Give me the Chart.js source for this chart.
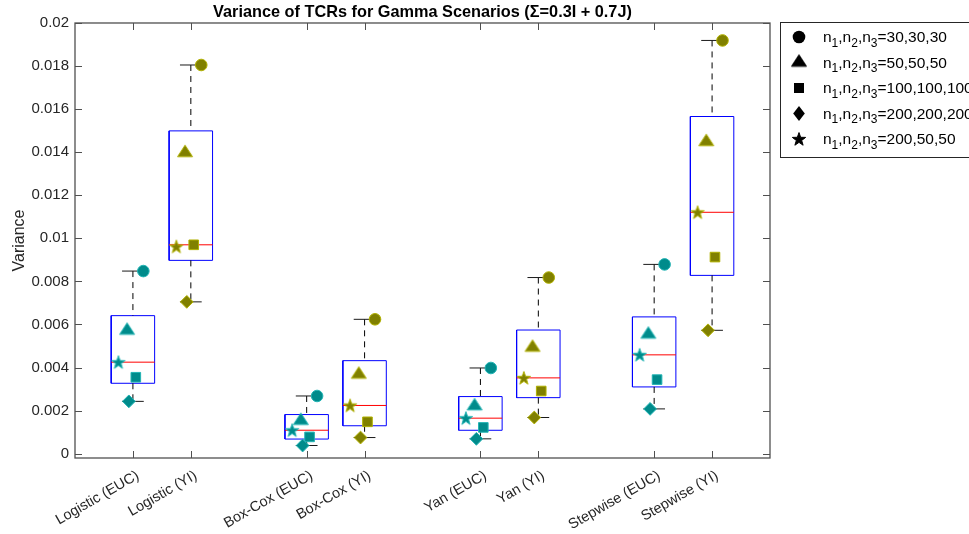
<!DOCTYPE html>
<html>
<head>
<meta charset="utf-8">
<script src="https://cdn.jsdelivr.net/npm/chart.js@4/dist/chart.umd.min.js"></script>
<style>
  html, body { margin: 0; padding: 0; background: #ffffff; }
  #wrap { position: relative; width: 969px; height: 534px; }
</style>
</head>
<body>
<div id="wrap"><canvas id="c" width="969" height="534"></canvas></div>
<script>
// Methods compared (EUC / YI variant of each)
const categories = [
  'Logistic (EUC)', 'Logistic (YI)',
  'Box-Cox (EUC)', 'Box-Cox (YI)',
  'Yan (EUC)', 'Yan (YI)',
  'Stepwise (EUC)', 'Stepwise (YI)'
];

// Variance of the TCR estimates, one array per sample-size scenario
const n30_30_30    = [0.00848, 0.01805, 0.00268, 0.00624, 0.00398, 0.00818, 0.00879, 0.01919];
const n50_50_50    = [0.00572, 0.01397, 0.00153, 0.00368, 0.00221, 0.00493, 0.00554, 0.01448];
const n100_100_100 = [0.00355, 0.00970, 0.00078, 0.00148, 0.00122, 0.00291, 0.00344, 0.00913];
const n200_200_200 = [0.00243, 0.00705, 0.00038, 0.00075, 0.00069, 0.00168, 0.00208, 0.00573];
const n200_50_50   = [0.00425, 0.00962, 0.00109, 0.00224, 0.00165, 0.00352, 0.00459, 0.01121];

// Scenario labels: subscripted n's are added when the legend is drawn
const scenarioLabels = ['30,30,30', '50,50,50', '100,100,100', '200,200,200', '200,50,50'];

const yTickValues = [0, 0.002, 0.004, 0.006, 0.008, 0.01, 0.012, 0.014, 0.016, 0.018, 0.02];

// ---------------------------------------------------------------------------
const seriesValues = [n30_30_30, n50_50_50, n100_100_100, n200_200_200, n200_50_50];

// Category slots: pairs of boxes with an empty slot between methods
const slotOf = (i) => i + Math.floor(i / 2) + 1;
const slots = categories.map((_, i) => slotOf(i));

const TEAL = '#008b8b', TEAL_EDGE = '#22b4b4';
const OLIVE = '#808000', OLIVE_EDGE = '#b0b000';
const fillFor = (i) => (i % 2 === 0 ? TEAL : OLIVE);
const edgeFor = (i) => (i % 2 === 0 ? TEAL_EDGE : OLIVE_EDGE);

const FONT = '"Liberation Sans", Arial, Helvetica, sans-serif';
const AXIS_COLOR = '#262626';

// Quantiles as computed by MATLAB's prctile (midpoint plotting positions)
function quantile(sorted, p) {
  const n = sorted.length;
  const pos = p * n + 0.5;
  if (pos <= 1) return sorted[0];
  if (pos >= n) return sorted[n - 1];
  const lo = Math.floor(pos);
  const f = pos - lo;
  return sorted[lo - 1] + f * (sorted[lo] - sorted[lo - 1]);
}

const boxStats = categories.map((_, i) => {
  const vals = seriesValues.map(s => s[i]).sort((a, b) => a - b);
  const q1 = quantile(vals, 0.25), med = quantile(vals, 0.5), q3 = quantile(vals, 0.75);
  const iqr = q3 - q1;
  const hiLim = q3 + 1.5 * iqr, loLim = q1 - 1.5 * iqr;
  const hi = Math.max(...vals.filter(v => v <= hiLim));
  const lo = Math.min(...vals.filter(v => v >= loLim));
  return { q1, med, q3, lo, hi };
});

// Box outline, median, whiskers and caps as line datasets with gaps between boxes
const HALF_BOX = 0.375, HALF_CAP = 0.1875;
const gap = (x) => ({ x, y: null });
const boxPts = [], medPts = [], whiskPts = [], capPts = [];
boxStats.forEach((b, i) => {
  const p = slots[i];
  boxPts.push({ x: p - HALF_BOX, y: b.q1 }, { x: p + HALF_BOX, y: b.q1 },
              { x: p + HALF_BOX, y: b.q3 }, { x: p - HALF_BOX, y: b.q3 },
              { x: p - HALF_BOX, y: b.q1 }, gap(p));
  medPts.push({ x: p - HALF_BOX, y: b.med }, { x: p + HALF_BOX, y: b.med }, gap(p));
  whiskPts.push({ x: p, y: b.hi }, { x: p, y: b.q3 }, gap(p),
                { x: p, y: b.q1 }, { x: p, y: b.lo }, gap(p));
  capPts.push({ x: p - HALF_CAP, y: b.hi }, { x: p + HALF_CAP, y: b.hi }, gap(p),
              { x: p - HALF_CAP, y: b.lo }, { x: p + HALF_CAP, y: b.lo }, gap(p));
});

// Custom marker images (filled pentagram, wide triangle centred on its centroid)
function starImage(fill, stroke, R) {
  const s = Math.ceil(2 * R + 4);
  const c = document.createElement('canvas');
  c.width = s; c.height = s;
  const g = c.getContext('2d');
  const cx = s / 2, cy = s / 2 + R * 0.08;
  g.beginPath();
  for (let k = 0; k < 10; k++) {
    const r = k % 2 ? R * 0.40 : R;
    const a = -Math.PI / 2 + k * Math.PI / 5;
    const px = cx + r * Math.cos(a), py = cy + r * Math.sin(a);
    k ? g.lineTo(px, py) : g.moveTo(px, py);
  }
  g.closePath();
  g.fillStyle = fill; g.fill();
  g.lineWidth = 1; g.strokeStyle = stroke; g.stroke();
  return c;
}
function triangleImage(fill, stroke, W, H) {
  const s = 20;
  const c = document.createElement('canvas');
  c.width = s; c.height = s;
  const g = c.getContext('2d');
  const cx = s / 2, cy = s / 2;
  g.beginPath();
  g.moveTo(cx, cy - 2 * H / 3);
  g.lineTo(cx + W / 2, cy + H / 3);
  g.lineTo(cx - W / 2, cy + H / 3);
  g.closePath();
  g.fillStyle = fill; g.fill();
  g.lineWidth = 1; g.strokeStyle = stroke; g.stroke();
  return c;
}
const starTeal = starImage(TEAL, TEAL_EDGE, 7), starOlive = starImage(OLIVE, OLIVE_EDGE, 7);
const triTeal = triangleImage(TEAL, TEAL_EDGE, 15, 11.5), triOlive = triangleImage(OLIVE, OLIVE_EDGE, 15, 11.5);
const starBlack = starImage('#000', '#000', 7), triBlack = triangleImage('#000', '#000', 15, 11.5);

// Marker shape and horizontal offset inside each box, per scenario
const markerDefs = [
  { style: 'circle',   radius: 5.8, dx:  0.18 },
  { style: (ctx) => (ctx.dataIndex % 2 === 0 ? triTeal : triOlive), radius: 7, dx: -0.10 },
  { style: 'rect',     radius: 6.8, dx:  0.05 },
  { style: 'rectRot',  radius: 6.4, dx: -0.07 },
  { style: (ctx) => (ctx.dataIndex % 2 === 0 ? starTeal : starOlive), radius: 7, dx: -0.25 }
];

const markerDatasets = seriesValues.map((vals, k) => ({
  type: 'scatter',
  label: scenarioLabels[k],
  data: vals.map((v, i) => ({ x: slots[i] + markerDefs[k].dx, y: v })),
  pointStyle: markerDefs[k].style,
  pointRadius: markerDefs[k].radius,
  pointBackgroundColor: (ctx) => fillFor(ctx.dataIndex),
  pointBorderColor: (ctx) => edgeFor(ctx.dataIndex),
  pointBorderWidth: 1,
  order: 5 - k
}));

const lineBase = { type: 'line', pointRadius: 0, fill: false, tension: 0, spanGaps: false, borderWidth: 1 };
const structureDatasets = [
  Object.assign({}, lineBase, { label: 'box', data: boxPts, borderColor: '#0000ff', order: 13 }),
  Object.assign({}, lineBase, { label: 'whisker', data: whiskPts, borderColor: '#000000', borderDash: [6, 5], order: 12 }),
  Object.assign({}, lineBase, { label: 'cap', data: capPts, borderColor: '#1a1a1a', order: 11 }),
  Object.assign({}, lineBase, { label: 'median', data: medPts, borderColor: '#ff0000', order: 10 })
];

// Axes frame with inward ticks on all four sides
const frameTicks = {
  id: 'frameTicks',
  afterDraw(chart) {
    const { ctx, chartArea: a, scales: { x, y } } = chart;
    const L = 7;
    ctx.save();
    ctx.strokeStyle = '#505050';
    ctx.lineWidth = 1.3;
    ctx.strokeRect(a.left, a.top, a.right - a.left, a.bottom - a.top);
    ctx.lineWidth = 1;
    ctx.beginPath();
    x.ticks.forEach(t => {
      const px = Math.round(x.getPixelForValue(t.value)) + 0.5;
      ctx.moveTo(px, a.bottom); ctx.lineTo(px, a.bottom - L);
      ctx.moveTo(px, a.top); ctx.lineTo(px, a.top + L);
    });
    y.ticks.forEach(t => {
      const py = Math.round(y.getPixelForValue(t.value)) + 0.5;
      ctx.moveTo(a.left, py); ctx.lineTo(a.left + L, py);
      ctx.moveTo(a.right, py); ctx.lineTo(a.right - L, py);
    });
    ctx.stroke();
    ctx.restore();
  }
};

// Boxed legend with subscripted n1, n2, n3
const subLegend = {
  id: 'subLegend',
  afterDraw(chart) {
    const ctx = chart.ctx;
    const left = 780.5, top = 22.5, height = 135;
    const rows = [37, 62.5, 88, 113.5, 139];
    const mx = 799, tx = 823;
    ctx.save();
    ctx.fillStyle = '#ffffff';
    ctx.fillRect(left, top, 200, height);
    ctx.strokeStyle = '#262626';
    ctx.lineWidth = 1;
    ctx.strokeRect(left, top, 200, height);
    rows.forEach((yy, k) => {
      ctx.fillStyle = '#000';
      ctx.strokeStyle = '#000';
      if (k === 0) { ctx.beginPath(); ctx.arc(mx, yy, 6.3, 0, Math.PI * 2); ctx.fill(); }
      if (k === 1) { ctx.drawImage(triBlack, mx - 10, yy - 10); }
      if (k === 2) { ctx.fillRect(mx - 5, yy - 5, 10, 10); }
      if (k === 3) {
        ctx.beginPath();
        ctx.moveTo(mx, yy - 7.5); ctx.lineTo(mx + 5.8, yy); ctx.lineTo(mx, yy + 7.5); ctx.lineTo(mx - 5.8, yy);
        ctx.closePath(); ctx.fill();
      }
      if (k === 4) { ctx.drawImage(starBlack, mx - starBlack.width / 2, yy - starBlack.height / 2); }
      // text runs: [string, isSubscript]
      const runs = [['n', 0], ['1', 1], [',n', 0], ['2', 1], [',n', 0], ['3', 1], ['=' + scenarioLabels[k], 0]];
      let cx = tx;
      ctx.fillStyle = '#000';
      ctx.textBaseline = 'alphabetic';
      runs.forEach(([s, sub]) => {
        ctx.font = (sub ? '12px ' : '15.5px ') + FONT;
        ctx.fillText(s, cx, yy + (sub ? 9.5 : 5));
        cx += ctx.measureText(s).width;
      });
    });
    ctx.restore();
  }
};

new Chart(document.getElementById('c'), {
  type: 'scatter',
  data: { datasets: [...markerDatasets, ...structureDatasets] },
  options: {
    responsive: false,
    animation: false,
    events: [],
    devicePixelRatio: 1,
    layout: { padding: { left: 0, right: 199, top: 0, bottom: 0 } },
    plugins: {
      legend: { display: false },
      tooltip: { enabled: false },
      title: {
        display: true,
        fullSize: false,
        text: 'Variance of TCRs for Gamma Scenarios (\u03A3=0.3I + 0.7J)',
        color: '#000',
        font: { family: FONT, size: 16.3, weight: 'bold', lineHeight: 1.15 },
        padding: { top: 3.5, bottom: 0.75 }
      }
    },
    scales: {
      x: {
        type: 'linear',
        min: 0, max: 12,
        grid: { display: false, drawTicks: false },
        border: { display: false },
        afterBuildTicks: (scale) => { scale.ticks = slots.map(v => ({ value: v })); },
        afterFit: (scale) => { scale.height = 76; },
        ticks: {
          autoSkip: false,
          minRotation: 30, maxRotation: 30,
          padding: 9,
          labelOffset: 5,
          color: AXIS_COLOR,
          font: { family: FONT, size: 14.5 },
          callback: (value) => categories[slots.indexOf(value)]
        }
      },
      y: {
        type: 'linear',
        min: -0.0002, max: 0.02,
        grid: { display: false, drawTicks: false },
        border: { display: false },
        afterBuildTicks: (scale) => { scale.ticks = yTickValues.map(v => ({ value: v })); },
        afterFit: (scale) => { scale.width = 75; },
        ticks: {
          padding: 6,
          color: AXIS_COLOR,
          font: { family: FONT, size: 15 },
          callback: (value) => String(value)
        },
        title: {
          display: true,
          text: 'Variance',
          color: AXIS_COLOR,
          font: { family: FONT, size: 16 },
          padding: { top: 10, bottom: 0 }
        }
      }
    }
  },
  plugins: [frameTicks, subLegend]
});
</script>
</body>
</html>
